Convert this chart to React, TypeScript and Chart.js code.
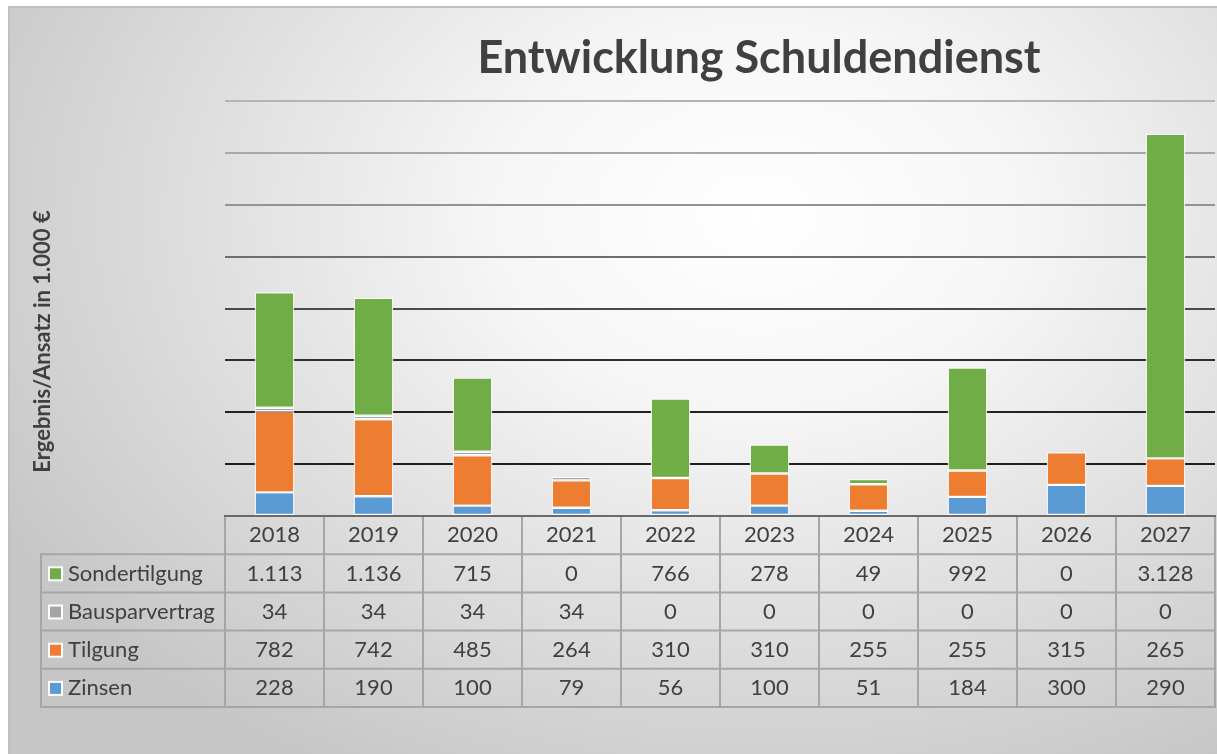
import React, { useEffect, useRef } from "react";
import { Chart, registerables } from "chart.js";

Chart.register(...registerables);

const years = ["2018", "2019", "2020", "2021", "2022", "2023", "2024", "2025", "2026", "2027"];
const zinsen = [228, 190, 100, 79, 56, 100, 51, 184, 300, 290];
const tilgung = [782, 742, 485, 264, 310, 310, 255, 255, 315, 265];
const bausparvertrag = [34, 34, 34, 34, 0, 0, 0, 0, 0, 0];
const sondertilgung = [1113, 1136, 715, 0, 766, 278, 49, 992, 0, 3128];

const chartTitle = "Entwicklung Schuldendienst";
const yAxisTitle = "Ergebnis/Ansatz in 1.000 €";
const yMax = 4000;
const yStep = 500;

const COLORS = {
  zinsen: "#5b9bd5",
  tilgung: "#ed7d31",
  bauspar: "#a5a5a5",
  sonder: "#70ad47",
};

const gridColors = ["#7f7f7f", "#1e1e1e", "#222222", "#2e2e2e", "#4a4a4a", "#6e6e6e", "#939393", "#a8a8a8", "#b4b4b4"];

const FONT = "Lato, 'Open Sans', sans-serif";
const TEXT = "#404040";

const fmt = (v: number) => String(v).replace(/\B(?=(\d{3})+(?!\d))/g, ".");

const tableRows = [
  { label: "Sondertilgung", values: sondertilgung, color: COLORS.sonder },
  { label: "Bausparvertrag", values: bausparvertrag, color: COLORS.bauspar },
  { label: "Tilgung", values: tilgung, color: COLORS.tilgung },
  { label: "Zinsen", values: zinsen, color: COLORS.zinsen },
];

const decorPlugin = {
  id: "decor",
  afterDraw(chart: any) {
    const ctx = chart.ctx as CanvasRenderingContext2D;
    const area = chart.chartArea;
    const xs = chart.scales.x;
    const n = years.length;
    const colW = (area.right - area.left) / n;
    const rowH = 38.2;
    const top = area.bottom;
    const bottom = top + rowH * 5;
    const tableLeft = 33;
    const baseOff = 26.3;

    ctx.save();
    const line = (x1: number, y1: number, x2: number, y2: number) => {
      ctx.beginPath();
      ctx.moveTo(x1, y1);
      ctx.lineTo(x2, y2);
      ctx.stroke();
    };
    ctx.strokeStyle = "#a6a6a6";
    ctx.lineWidth = 2;
    for (let i = 0; i <= n; i++) {
      const xx = area.left + i * colW;
      line(xx, top, xx, bottom);
    }
    line(tableLeft, top + rowH - 1, tableLeft, bottom + 1);
    for (let r = 1; r <= 5; r++) {
      line(tableLeft, top + r * rowH, area.right + 1, top + r * rowH);
    }
    ctx.strokeStyle = "#6a6a6a";
    line(area.left - 1, top, area.right + 1, top);

    ctx.fillStyle = TEXT;
    ctx.font = `22px ${FONT}`;
    ctx.textAlign = "center";
    ctx.textBaseline = "alphabetic";
    years.forEach((y, i) => {
      ctx.fillText(y, xs.getPixelForValue(i), top + baseOff);
    });
    tableRows.forEach((row, r) => {
      const rowTop = top + rowH * (r + 1);
      const base = rowTop + baseOff;
      const cy = rowTop + rowH / 2;
      ctx.textAlign = "center";
      ctx.fillStyle = TEXT;
      row.values.forEach((v, i) => {
        ctx.fillText(fmt(v), xs.getPixelForValue(i), base);
      });
      ctx.fillStyle = "#ffffff";
      ctx.fillRect(tableLeft + 7, cy - 7, 15, 15);
      ctx.fillStyle = row.color;
      ctx.fillRect(tableLeft + 9, cy - 5, 11, 11);
      ctx.fillStyle = TEXT;
      ctx.textAlign = "left";
      ctx.fillText(row.label, tableLeft + 27, base);
    });

    ctx.fillStyle = TEXT;
    ctx.font = `bold 45px ${FONT}`;
    ctx.textAlign = "center";
    ctx.textBaseline = "alphabetic";
    ctx.fillText(chartTitle, 751, 66.5);

    ctx.translate(42, 335.5);
    ctx.rotate(-Math.PI / 2);
    ctx.font = `bold 22px ${FONT}`;
    ctx.fillText(yAxisTitle, 0, 0);
    ctx.restore();
  },
};

export default function App() {
  const ref = useRef<HTMLCanvasElement | null>(null);
  useEffect(() => {
    if (!ref.current) return;
    const mk = (label: string, data: number[], color: string) => ({
      label,
      data,
      backgroundColor: color,
      borderColor: "#ffffff",
      borderWidth: 1.2,
      borderSkipped: false,
      barPercentage: 0.4,
      categoryPercentage: 1,
    });
    const chart = new Chart(ref.current, {
      type: "bar",
      data: {
        labels: years,
        datasets: [
          mk("Zinsen", zinsen, COLORS.zinsen),
          mk("Tilgung", tilgung, COLORS.tilgung),
          mk("Bausparvertrag", bausparvertrag, COLORS.bauspar),
          mk("Sondertilgung", sondertilgung, COLORS.sonder),
        ],
      },
      options: {
        animation: false,
        responsive: false,
        maintainAspectRatio: false,
        layout: { padding: { left: 217, top: 95, right: 2, bottom: 238 } },
        plugins: {
          legend: { display: false },
          title: { display: false },
          tooltip: { enabled: false },
        },
        scales: {
          x: {
            stacked: true,
            grid: { display: false },
            border: { display: false },
            ticks: { display: false },
            afterFit: (s: any) => {
              s.height = 0;
            },
          },
          y: {
            stacked: true,
            min: 0,
            max: yMax,
            ticks: { display: false, stepSize: yStep },
            border: { display: false },
            grid: {
              drawTicks: false,
              lineWidth: 2,
              color: (c: any) => gridColors[c.index] ?? "#888",
            },
            afterFit: (s: any) => {
              s.width = 0;
            },
          },
        },
      },
      plugins: [decorPlugin],
    });
    return () => chart.destroy();
  }, []);

  return (
    <div
      style={{
        position: "absolute",
        left: 8,
        top: 6,
        width: 1209,
        height: 748,
        background:
          "radial-gradient(ellipse 72% 85% at 62% 28%, #ffffff 0%, #f6f6f6 30%, #dedede 65%, #c6c6c6 100%)",
        boxShadow: "inset 2px 2px 0 0 #c0c0c0",
      }}
    >
      <canvas ref={ref} width={1209} height={748} style={{ display: "block" }} />
    </div>
  );
}
